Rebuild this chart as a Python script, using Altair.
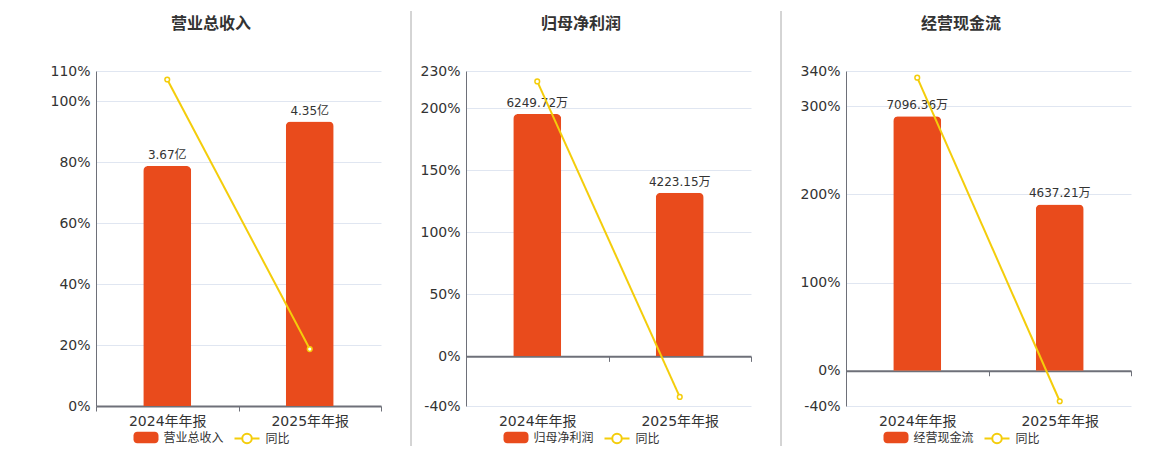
import altair as alt
import pandas as pd

# ---------------- data ----------------
categories = ["2024年年报", "2025年年报"]

titles = ["营业总收入", "归母净利润", "经营现金流"]
units = ["亿", "万", "万"]

revenue = [3.67, 4.35]
revenue_yoy = [107.2, 18.7]

profit = [6249.72, 4223.15]
profit_yoy = [221.6, -32.7]

cashflow = [7096.36, 4637.21]
cashflow_yoy = [332.4, -34.6]

pct_ticks = [
    [0, 20, 40, 60, 80, 100, 110],
    [-40, 0, 50, 100, 150, 200, 230],
    [-40, 0, 100, 200, 300, 340],
]

values = [revenue, profit, cashflow]
yoys = [revenue_yoy, profit_yoy, cashflow_yoy]

# ---------------- style ----------------
BAR = "#E94B1C"
LINE = "#F4CD0B"
TXT = "#333333"
AXIS = "#6E7079"
GRID = "#E0E6F1"
FONT = "DejaVu Sans, Noto Sans CJK SC, sans-serif"
W, H = 285, 335
HEADROOM = 1.178

BAR_PATH = ("M-0.7,-0.46 H0.7 A0.3,0.3 0 0 1 1,-0.16 V0.16 A0.3,0.3 0 0 1 0.7,0.46 "
            "H-0.7 A0.3,0.3 0 0 1 -1,0.16 V-0.16 A0.3,0.3 0 0 1 -0.7,-0.46 Z")
LINE_PATH = ("M-1,0 H-0.38 M0.38,0 H1 M0.38,0 A0.38,0.38 0 1 1 -0.38,0 "
             "A0.38,0.38 0 1 1 0.38,0 Z")


def panel(i, divider_x=None):
    vals = values[i]
    unit = units[i]
    ticks = pct_ticks[i]
    lo, hi = min(ticks), max(ticks)
    bar_hi = max(vals) * HEADROOM
    bar_lo = bar_hi * lo / hi
    zero_px = H * hi / (hi - lo)  # pixel position of 0 from top
    off = H - zero_px

    df = pd.DataFrame({
        "cat": categories,
        "v": vals,
        "yoy": yoys[i],
        "label": [f"{v:.2f}{unit}" for v in vals],
        "name": titles[i],
        "s": "同比",
    })
    base = alt.Chart(df)

    xaxis = alt.Axis(
        title=None, labelAngle=0, domainColor=AXIS, domainWidth=2,
        tickColor=AXIS, tickSize=5, tickWidth=1, tickBand="extent",
        labelFontSize=14, labelColor=TXT, labelFont=FONT,
        labelPadding=3 + off, offset=-off, grid=False,
    )
    x = alt.X("cat:N", sort=categories, axis=xaxis,
              scale=alt.Scale(paddingInner=0, paddingOuter=0))

    ybar = alt.Y("v:Q", axis=None,
                 scale=alt.Scale(domain=[bar_lo, bar_hi], nice=False, zero=False))

    bars = base.mark_bar(size=48, cornerRadiusTopLeft=5, cornerRadiusTopRight=5).encode(
        x=x, y=ybar,
        fill=alt.Fill("name:N", scale=alt.Scale(domain=[titles[i]], range=[BAR]),
                      legend=alt.Legend(orient="none", legendX=37.5, legendY=354,
                                        title=None, symbolType=BAR_PATH, symbolSize=625,
                                        symbolStrokeWidth=0, labelFontSize=12,
                                        labelColor=TXT, labelFont=FONT, labelOffset=5,
                                        padding=0)),
    )
    texts = base.mark_text(baseline="bottom", dy=-4, fontSize=12, color=TXT, font=FONT).encode(
        x=alt.X("cat:N", sort=categories), y=ybar, text="label:N")

    yl = alt.Y("yoy:Q",
               scale=alt.Scale(domain=[lo, hi], nice=False, zero=False),
               axis=alt.Axis(orient="left", title=None, values=ticks,
                             labelExpr="datum.value + '%'", ticks=False,
                             domain=True, domainColor=AXIS, domainWidth=1,
                             grid=True, gridColor=GRID, gridWidth=1,
                             labelFontSize=14, labelColor=TXT, labelFont=FONT,
                             labelPadding=6))
    stroke = alt.Stroke("s:N", scale=alt.Scale(domain=["同比"], range=[LINE]),
                        legend=alt.Legend(orient="none", legendX=137.5, legendY=354,
                                          title=None, symbolType=LINE_PATH, symbolSize=625,
                                          symbolStrokeWidth=2, symbolFillColor="white",
                                          labelFontSize=12, labelColor=TXT, labelFont=FONT,
                                          labelOffset=5, padding=0))
    line = base.mark_line(strokeWidth=2).encode(
        x=alt.X("cat:N", sort=categories), y=yl, stroke=stroke)
    pts = base.mark_point(shape="circle", filled=True, fill="white", size=22,
                          strokeWidth=1.5, opacity=1).encode(
        x=alt.X("cat:N", sort=categories), y=yl, stroke=stroke)

    layers = [alt.layer(bars, texts), alt.layer(line, pts)]
    if divider_x is not None:
        div = alt.Chart(pd.DataFrame({"d": [0]})).mark_rule(color="#AAAAAA", strokeWidth=1).encode(
            x=alt.value(divider_x), y=alt.value(-60), y2=alt.value(375))
        layers.append(div)
        toff = -21
    else:
        toff = 32

    ch = alt.layer(*layers).resolve_scale(y="independent").properties(
        width=W, height=H,
        title=alt.TitleParams(titles[i], fontSize=16, fontWeight="bold", color=TXT,
                              font=FONT, anchor="middle", frame="group", dx=-27.5,
                              offset=toff),
    )
    return ch


p1 = panel(0)
p2 = panel(1, divider_x=-55)
p3 = panel(2, divider_x=-65)

inner = alt.hconcat(p2, p3, spacing=95, bounds="flush").resolve_scale(
    fill="independent", stroke="independent").resolve_legend(
    fill="independent", stroke="independent")

chart = alt.hconcat(p1, inner, spacing=85, bounds="flush").resolve_scale(
    fill="independent", stroke="independent").resolve_legend(
    fill="independent", stroke="independent").properties(
    padding={"left": 41, "top": 2, "right": 5, "bottom": 5},
    background="white",
).configure_view(strokeWidth=0)

chart.save("out.html", embed_options={"renderer": "svg", "actions": False})
